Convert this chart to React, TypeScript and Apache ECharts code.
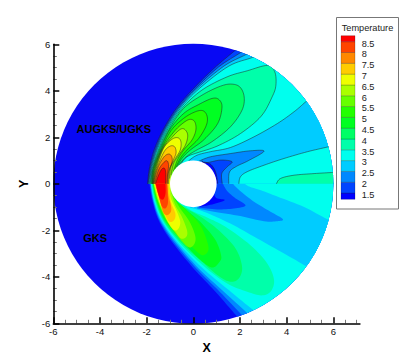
import React, { useEffect, useRef } from "react";
import * as echarts from "echarts";

type P = [number, number];

const levelLabels = ["8.5", "8", "7.5", "7", "6.5", "6", "5.5", "5", "4.5", "4", "3.5", "3", "2.5", "2", "1.5"];
const bandColors = ["#0000ff", "#0044ff", "#0088ff", "#00ccff", "#00ffee", "#00ffaa", "#00ff66", "#00ff22", "#22ff00", "#66ff00", "#aaff00", "#eeff00", "#ffcc00", "#ff8800", "#ff4400", "#ff0000"];
const xMajor = [-6, -4, -2, 0, 2, 4, 6];
const xMinor = [-5.5, -5, -4.5, -3.5, -3, -2.5, -1.5, -1, -0.5, 0.5, 1, 1.5, 2.5, 3, 3.5, 4.5, 5, 5.5, 6.5, 7];
const yMajor = [-6, -4, -2, 0, 2, 4, 6];
const yMinor = [-5.5, -5, -4.5, -3.5, -3, -2.5, -1.5, -1, -0.5, 0.5, 1, 1.5, 2.5, 3, 3.5, 4.5, 5, 5.5];

const up15: P[] = [[-1.96,0],[-1.88,.66],[-1.68,1.45],[-1.3,2.31],[-.73,3.24],[.01,4.1],[.88,4.96],[1.76,5.71],[2.17,6.04]];
const up20: P[] = [[-1.94,0],[-1.85,.66],[-1.63,1.45],[-1.26,2.31],[-.67,3.24],[.09,4.1],[1.09,5.03],[2.02,5.64],[2.45,5.96]];
const up25: P[] = [[-1.91,0],[-1.82,.66],[-1.59,1.45],[-1.22,2.31],[-.62,3.24],[.16,4.1],[1.31,5.06],[2.24,5.55],[2.74,5.82]];
const up30: P[] = [[-1.88,0],[-1.79,.66],[-1.55,1.45],[-1.17,2.31],[-.56,3.24],[.26,4.1],[1.52,5.06],[2.52,5.43],[3.03,5.68]];
const up35: P[] = [[-1.85,0],[-1.76,.66],[-1.5,1.45],[-1.12,2.31],[-.49,3.24],[.37,4.03],[1.45,4.6],[2.31,4.86],[3.17,5.09],[3.49,4.82],[3.54,4.24],[3.38,3.74],[2.91,2.91],[2.02,2.16],[1.02,1.62],[.16,1.33],[-.27,1.16],[-.56,.83]];
const up40: P[] = [[-1.82,0],[-1.73,.66],[-1.46,1.45],[-1.06,2.31],[-.42,3.24],[.37,3.81],[1.09,4.17],[1.59,4.29],[1.99,4.17],[2.18,3.74],[2.09,3.17],[1.59,2.45],[.8,1.81],[.09,1.42],[-.34,1.13],[-.63,.79]];
const up45: P[] = [[-1.79,0],[-1.71,.66],[-1.42,1.45],[-1.02,2.31],[-.42,3.02],[.23,3.41],[.8,3.67],[1.09,3.63],[1.23,3.31],[1.05,2.6],[.47,1.91],[-.13,1.45],[-.49,1.09],[-.7,.72]];
const up50: P[] = [[-1.76,0],[-1.68,.66],[-1.38,1.45],[-.96,2.28],[-.42,2.81],[.09,3.1],[.42,3.14],[.59,2.91],[.56,2.52],[.23,1.95],[-.27,1.45],[-.56,1.09],[-.77,.65]];
const up55: P[] = [[-1.75,0],[-1.65,.66],[-1.33,1.52],[-.87,2.19],[-.49,2.57],[-.16,2.77],[.06,2.67],[.11,2.31],[-.06,1.88],[-.42,1.45],[-.67,1.05],[-.85,.54]];
const up60: P[] = [[-1.73,0],[-1.62,.66],[-1.3,1.52],[-.87,2.05],[-.56,2.34],[-.37,2.34],[-.24,2.09],[-.34,1.66],[-.63,1.23],[-.85,.87],[-.96,.37]];
const up65: P[] = [[-1.72,0],[-1.59,.66],[-1.28,1.52],[-.92,1.91],[-.66,1.98],[-.53,1.81],[-.56,1.45],[-.77,1.09],[-.96,.73],[-1.02,.23]];
const up70: P[] = [[-1.71,0],[-1.56,.66],[-1.25,1.38],[-.99,1.62],[-.8,1.59],[-.74,1.33],[-.87,.99],[-1.02,.59],[-1.06,0]];
const up75: P[] = [[-1.69,0],[-1.53,.66],[-1.28,1.13],[-1.06,1.28],[-.92,1.16],[-.92,.87],[-1.06,.52],[-1.1,0]];
const up80: P[] = [[-1.66,0],[-1.49,.59],[-1.28,.9],[-1.13,.99],[-1.06,.8],[-1.1,.44],[-1.13,0]];
const up85: P[] = [[-1.62,0],[-1.49,.37],[-1.35,.63],[-1.23,.66],[-1.18,.44],[-1.19,0]];
const up30WakeTop: P[] = [[-.2,.99],[.16,1.23],[.73,1.38],[1.59,1.56],[2.6,2.02],[3.6,2.59],[4.32,3.1],[4.82,3.53],[5.46,4.1]];
const up30WakeBottom: P[] = [[6.47,1.76],[5.78,1.59],[4.89,1.38],[3.89,1.09],[3.03,.8],[2.31,.52],[2.02,.3],[1.95,0]];
const up25Wake: P[] = [[.23,.97],[.73,1.16],[1.59,1.3],[2.45,1.42],[3.03,1.4],[2.35,.99],[1.85,.75],[1.55,.5],[1.52,0]];
const up20Wake: P[] = [[.37,1],[.52,.9],[1.16,1.02],[1.66,.95],[1.45,.73],[1.22,.44],[1.24,0]];
const up15Wake: P[] = [[.37,.95],[.73,.85],[.95,.52],[1.05,0]];
const up35Far: P[] = [[3.56,0],[3.74,.23],[4.32,.37],[5.18,.44],[6,.49],[6.47,.52]];

const lo15: P[] = [[-1.88,0],[-1.76,-.7],[-1.49,-1.56],[-.92,-2.49],[.01,-3.64],[.95,-4.64],[1.85,-5.68],[2.24,-6.08]];
const lo20: P[] = [[-1.85,0],[-1.73,-.7],[-1.45,-1.56],[-.85,-2.49],[.13,-3.64],[1.13,-4.64],[2.05,-5.61],[2.45,-6.01]];
const lo25: P[] = [[-1.82,0],[-1.71,-.7],[-1.41,-1.56],[-.77,-2.49],[.23,-3.64],[1.31,-4.64],[2.27,-5.52],[2.74,-5.94]];
const lo30: P[] = [[-1.81,0],[-1.68,-.7],[-1.36,-1.56],[-.7,-2.49],[.37,-3.6],[1.52,-4.57],[2.57,-5.43],[3.17,-5.86]];
const lo35: P[] = [[-1.79,0],[-1.65,-.7],[-1.32,-1.56],[-.63,-2.49],[.45,-3.54],[1.45,-4.29],[2.31,-4.64],[2.91,-4.8],[3.31,-4.64],[3.46,-4.14],[3.17,-3.43],[2.45,-2.64],[1.38,-1.85],[.59,-1.45],[.01,-1.2],[-.34,-.99],[-.56,-.83]];
const lo40: P[] = [[-1.76,0],[-1.62,-.7],[-1.28,-1.56],[-.56,-2.49],[.37,-3.35],[1.09,-3.97],[1.59,-4.21],[1.95,-4.07],[2.09,-3.57],[1.81,-2.78],[1.09,-2],[.37,-1.45],[-.13,-1.16],[-.63,-.87]];
const lo45: P[] = [[-1.73,0],[-1.59,-.7],[-1.23,-1.56],[-.49,-2.45],[.23,-3.21],[.8,-3.6],[1.13,-3.35],[1.19,-3.07],[.95,-2.42],[.37,-1.71],[-.2,-1.2],[-.7,-.77]];
const lo50: P[] = [[-1.72,0],[-1.56,-.7],[-1.19,-1.56],[-.49,-2.28],[.01,-2.78],[.37,-3.07],[.62,-2.92],[.62,-2.57],[.3,-1.78],[-.27,-1.16],[-.77,-.7]];
const lo55: P[] = [[-1.71,0],[-1.53,-.7],[-1.16,-1.56],[-.7,-2.21],[-.24,-2.71],[.01,-2.64],[.09,-2.28],[-.16,-1.63],[-.56,-1.06],[-.85,-.56]];
const lo60: P[] = [[-1.69,0],[-1.51,-.7],[-1.13,-1.56],[-.77,-2.06],[-.53,-2.35],[-.3,-2.28],[-.27,-2],[-.49,-1.42],[-.77,-.92],[-.96,-.34]];
const lo65: P[] = [[-1.68,0],[-1.48,-.7],[-1.16,-1.49],[-.87,-1.96],[-.66,-1.96],[-.56,-1.63],[-.73,-1.13],[-.96,-.63],[-1.02,-.2]];
const lo70: P[] = [[-1.65,0],[-1.45,-.7],[-1.2,-1.35],[-1.02,-1.63],[-.82,-1.56],[-.77,-1.27],[-.96,-.77],[-1.06,0]];
const lo75: P[] = [[-1.63,0],[-1.45,-.63],[-1.3,-1.2],[-1.13,-1.35],[-.96,-1.2],[-.96,-.92],[-1.07,-.49],[-1.1,0]];
const lo80: P[] = [[-1.62,0],[-1.49,-.49],[-1.35,-.96],[-1.2,-1.06],[-1.09,-.85],[-1.1,-.41],[-1.13,0]];
const lo85: P[] = [[-1.61,0],[-1.53,-.34],[-1.42,-.63],[-1.28,-.66],[-1.19,-.41],[-1.19,0]];
const lo30WakeBottom: P[] = [[-.16,-1.02],[.45,-1.2],[1.59,-1.71],[2.74,-2.35],[3.89,-3],[4.82,-3.54],[5.46,-4]];
const lo30WakeTop: P[] = [[6.47,-1.85],[5.75,-1.53],[4.75,-1],[3.6,-.55],[2.9,-.28],[2.4,-.12],[2.2,0]];
const lo25Wake: P[] = [[.16,-1.06],[.88,-1.2],[2.02,-1.39],[3.03,-1.61],[3.6,-1.61],[3.84,-1.52],[3.31,-1.2],[2.6,-.77],[2.05,-.34],[1.75,-.06],[1.72,0]];
const lo20Wake: P[] = [[.23,-1.02],[1.02,-1.1],[1.74,-1.06],[2.24,-.93],[1.8,-.62],[1.48,-.34],[1.32,-.1],[1.28,0]];
const lo15Wake: P[] = [[.3,-.99],[.88,-.87],[1.35,-.7],[1,-.62],[.9,-.45]];

function pen(pts: P[]): P[] {
  const out: P[] = [];
  for (let i = 0; i < pts.length - 1; i++) {
    const a = pts[Math.max(i - 1, 0)], b = pts[i], c = pts[i + 1], d = pts[Math.min(i + 2, pts.length - 1)];
    for (let k = 0; k < 8; k++) {
      const t = k / 8, t2 = t * t, t3 = t2 * t;
      const f = (j: 0 | 1) => 0.5 * (2 * b[j] + (c[j] - a[j]) * t + (2 * a[j] - 5 * b[j] + 4 * c[j] - d[j]) * t2 + (3 * b[j] - a[j] - 3 * c[j] + d[j]) * t3);
      out.push([f(0), f(1)]);
    }
  }
  out.push(pts[pts.length - 1]);
  return out;
}

type Layer = { kind: "disc" | "area" | "line" | "hole"; pts?: P[]; color?: string };
const layers: Layer[] = [{ kind: "disc", color: "#0808f4" }];
const area = (pts: P[], band: number) => layers.push({ kind: "area", pts, color: bandColors[band] });
const shock = (c: P[], band: number, corner: number, seam: number) => area([...pen(c), [8, corner], [8, seam], [c[0][0], seam]], band);
const lobe = (c: P[], band: number, seam: number) => area([...pen(c), [-0.95, seam], [c[0][0], seam]], band);
const wake = (cs: P[][], band: number, seam: number) => area([...cs.flatMap(pen), [0.5, seam]], band);

const drawHalf = (s: P[][], w3: P[][], w: P[][], l: P[][], seam: number, corner: number) => {
  s.forEach((c, i) => shock(c, i + 1, corner, seam));
  wake(w3, 3, seam);
  w.forEach((c, i) => wake([c], 2 - i, seam));
  l.forEach((c, i) => lobe(c, i + 5, seam));
};
drawHalf([lo15, lo20, lo25, lo30], [lo30WakeBottom, lo30WakeTop], [lo25Wake, lo20Wake, lo15Wake], [lo35, lo40, lo45, lo50, lo55, lo60, lo65, lo70, lo75, lo80, lo85], 0.04, -7);
drawHalf([up15, up20, up25, up30], [up30WakeTop, up30WakeBottom], [up25Wake, up20Wake, up15Wake], [up35, up40, up45, up50, up55, up60, up65, up70, up75, up80, up85], 0, 7);
area([...pen(up35Far), [6.47, 0]], 5);
[up15, up20, up25, up30, up35, up40, up45, up50, up55, up60, up65, up70, up75, up80, up85, up30WakeTop, up30WakeBottom, up25Wake, up20Wake, up15Wake, up35Far].forEach((c) =>
  layers.push({ kind: "line", pts: pen(c) })
);
layers.push({ kind: "hole" });

const FONT = "'Liberation Sans', Arial, sans-serif";

function legendElements() {
  const els: any[] = [
    { type: "rect", shape: { x: 336.5, y: 17.5, width: 62, height: 191.5 }, style: { fill: "#fff", stroke: "#777", lineWidth: 1 }, z: 10 },
    { type: "text", x: 367.5, y: 27.5, style: { text: "Temperature", font: `9.2px ${FONT}`, fill: "#222", align: "center", verticalAlign: "middle" }, z: 11 },
  ];
  const step = 10.81;
  const first = 41.7;
  bandColors.forEach((col, b) => {
    const i = 15 - b;
    const y0 = i === 0 ? 35.7 : first + (i - 1) * step;
    const y1 = i === 15 ? 199.3 : first + i * step;
    els.push({ type: "rect", shape: { x: 341, y: y0, width: 14, height: y1 - y0 }, style: { fill: col, stroke: "rgba(0,0,0,0.4)", lineWidth: 0.5 }, z: 11 });
  });
  levelLabels.forEach((t, i) => {
    els.push({ type: "text", x: 361.7, y: first + i * step + 1.8, style: { text: t, font: `9.2px ${FONT}`, fill: "#222", align: "left", verticalAlign: "middle" }, z: 11 });
  });
  return els;
}

export default function App() {
  const ref = useRef<HTMLDivElement>(null);
  useEffect(() => {
    const chart = echarts.init(ref.current!, undefined, { renderer: "svg" });
    const labelStyle = { fontFamily: FONT, fontSize: 9.5, color: "#111" };
    const nameStyle = { fontFamily: FONT, fontSize: 12.5, fontWeight: "bold" as const, color: "#000" };
    const major = (vals: number[]) => ({
      axisLine: { show: true, onZero: false, lineStyle: { color: "#000", width: 1.6 } },
      axisTick: { show: true, inside: true, length: 6, customValues: vals, lineStyle: { color: "#000", width: 1.5 } },
      axisLabel: { show: true, customValues: vals, margin: 3, ...labelStyle },
      splitLine: { show: false },
      z: 6,
    });
    const minor = (vals: number[]) => ({
      axisLine: { show: false, onZero: false },
      axisTick: { show: true, inside: true, length: 3.5, customValues: vals, lineStyle: { color: "#777", width: 1 } },
      axisLabel: { show: false },
      splitLine: { show: false },
      z: 5,
    });
    chart.setOption({
      animation: false,
      backgroundColor: "#fff",
      grid: { left: 53.3, top: 44.3, width: 306.6, height: 279 },
      xAxis: [
        { type: "value", min: -6, max: 7.14, position: "bottom", name: "X", nameLocation: "middle", nameGap: 7, nameTextStyle: nameStyle, ...major(xMajor) },
        { type: "value", min: -6, max: 7.14, position: "bottom", ...minor(xMinor) },
      ],
      yAxis: [
        { type: "value", min: -6, max: 6, position: "left", name: "Y", nameLocation: "middle", nameGap: 21, nameTextStyle: nameStyle, ...major(yMajor) },
        { type: "value", min: -6, max: 6, position: "left", ...minor(yMinor) },
      ],
      series: [
        {
          type: "custom",
          coordinateSystem: "cartesian2d",
          clip: false,
          silent: true,
          data: layers.map((_, i) => [i, 0]),
          encode: { x: 0, y: 1 },
          renderItem: (params: any, api: any) => {
            const l = layers[params.dataIndex];
            const c = api.coord([0, 0]);
            const r = api.size([6, 0])[0];
            const clipPath = { type: "circle", shape: { cx: c[0], cy: c[1], r } };
            if (l.kind === "disc") return { type: "circle", shape: { cx: c[0], cy: c[1], r }, style: { fill: l.color } };
            if (l.kind === "hole") return { type: "circle", shape: { cx: c[0], cy: c[1], r: api.size([1, 0])[0] }, style: { fill: "#fff" } };
            const points = l.pts!.map((p) => api.coord(p));
            if (l.kind === "area") return { type: "polygon", shape: { points }, style: { fill: l.color }, clipPath };
            return { type: "polyline", shape: { points }, style: { fill: "none", stroke: "#222", lineWidth: 0.5 }, clipPath };
          },
        },
      ],
      graphic: {
        elements: [
          { type: "text", x: 76.5, y: 129, style: { text: "AUGKS/UGKS", font: `bold 11px ${FONT}`, fill: "#000", verticalAlign: "middle" }, z: 20 },
          { type: "text", x: 83.3, y: 238, style: { text: "GKS", font: `bold 11px ${FONT}`, fill: "#000", verticalAlign: "middle" }, z: 20 },
          ...legendElements(),
        ],
      },
    });
    return () => chart.dispose();
  }, []);
  return <div ref={ref} style={{ position: "fixed", left: 0, top: 0, width: 409, height: 364 }} />;
}
